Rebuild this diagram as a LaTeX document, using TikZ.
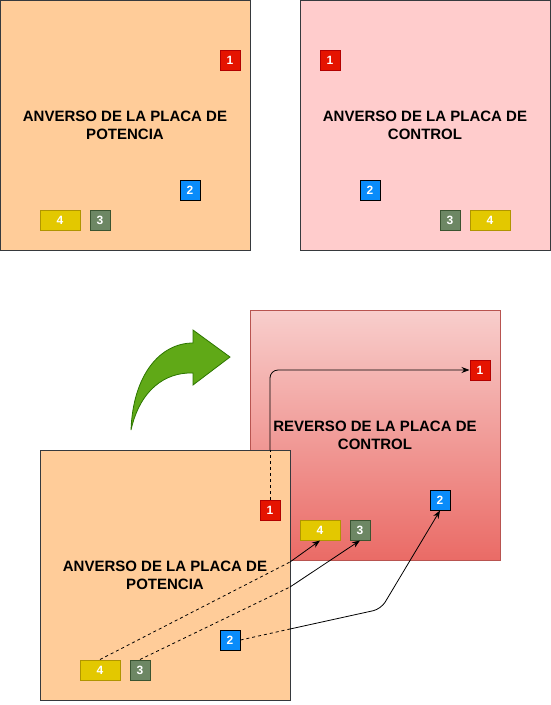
\documentclass[tikz,border=0pt]{standalone}
\usepackage{fontspec}
\setmainfont{Liberation Sans}
\usetikzlibrary{arrows.meta}
\definecolor{peach}{HTML}{FFCC99}
\definecolor{boardline}{HTML}{36393D}
\definecolor{pinkfill}{HTML}{FFCCCC}
\definecolor{ctop}{HTML}{F8CECC}
\definecolor{cbot}{HTML}{EA6B66}
\definecolor{cline}{HTML}{B85450}
\definecolor{redfill}{HTML}{E51400}
\definecolor{redline}{HTML}{B20000}
\definecolor{bluefill}{HTML}{0A8CFA}
\definecolor{yelfill}{HTML}{E3C800}
\definecolor{yelline}{HTML}{B09500}
\definecolor{gryfill}{HTML}{6D8764}
\definecolor{gryline}{HTML}{3A5431}
\definecolor{grnfill}{HTML}{60A917}
\definecolor{grnline}{HTML}{2D7600}
\tikzset{
  board/.style={draw=boardline, line width=1pt, minimum width=250pt, minimum height=250pt, inner sep=0pt,
    align=center, font=\fontsize{15}{18}\selectfont\bfseries, text=black},
  pad/.style={line width=1pt, minimum width=20pt, minimum height=20pt, inner sep=0pt,
    font=\fontsize{12}{14}\selectfont\bfseries, text=white},
  padred/.style={pad, fill=redfill, draw=redline},
  padblue/.style={pad, fill=bluefill, draw=black},
  padyel/.style={pad, fill=yelfill, draw=yelline, minimum width=40pt},
  padgry/.style={pad, fill=gryfill, draw=gryline},
  hidden/.style={line width=0.8pt, dash pattern=on 3pt off 3pt},
  wire/.style={line width=0.8pt, -{Stealth[length=8pt,width=6pt]}},
}
\begin{document}
\begin{tikzpicture}[x=1pt,y=-1pt]
\useasboundingbox (0,0) rectangle (551,705);
% top-left: power board front
\node[board, fill=peach] (pfa) at (125,125) {ANVERSO DE LA PLACA DE\\POTENCIA};
\node[padred] (pa1) at (230,60) {1};
\node[padblue] (pa2) at (190,190) {2};
\node[padyel] (pa4) at (60,220) {4};
\node[padgry] (pa3) at (100,220) {3};
% top-right: control board front
\node[board, fill=pinkfill] (cfa) at (425,125) {ANVERSO DE LA PLACA DE\\CONTROL};
\node[padred] (ca1) at (330,60) {1};
\node[padblue] (ca2) at (370,190) {2};
\node[padgry] (ca3) at (450,220) {3};
\node[padyel] (ca4) at (490,220) {4};
% bottom: control board reverse
\node[board, draw=cline, top color=ctop, bottom color=cbot] (crv) at (375,435) {REVERSO DE LA PLACA DE\\CONTROL};
\node[padred] (c1) at (480,370) {1};
\node[padblue] (c2) at (440,500) {2};
\node[padyel] (c4) at (320,530) {4};
\node[padgry] (c3) at (360,530) {3};
% bottom: power board front
\node[board, fill=peach] (pfb) at (165,575) {ANVERSO DE LA PLACA DE\\POTENCIA};
\node[padred] (p1) at (270,510) {1};
\node[padblue] (p2) at (230,640) {2};
\node[padyel] (p4) at (100,670) {4};
\node[padgry] (p3) at (140,670) {3};
% green curved arrow
\draw[fill=grnfill, draw=grnline, line width=0.8pt]
  (131,430) .. controls (133,375) and (160,343) .. (193,343)
  -- (193,330) -- (230,357) -- (193,385) -- (193,373)
  .. controls (165,372) and (140,390) .. (131,430) -- cycle;
% connectors
\coordinate (e1) at (270,450);
\coordinate (k1) at (270,370);
\coordinate (e4) at (290,562);
\coordinate (e3) at (290,587);
\coordinate (e2) at (290,629);
\coordinate (k2) at (381,609);
\draw[hidden] (p1.north) -- (e1);
\draw[wire, rounded corners=8pt] (e1) -- (k1) -- (c1.west);
\draw[hidden] (p4.north) -- (e4);
\draw[wire] (e4) -- (c4.south);
\draw[hidden] (p3.north) -- (e3);
\draw[wire] (e3) -- (c3.south);
\draw[hidden] (p2.east) -- (e2);
\draw[wire, rounded corners=8pt] (e2) -- (k2) -- (c2.south);
\end{tikzpicture}
\end{document}
